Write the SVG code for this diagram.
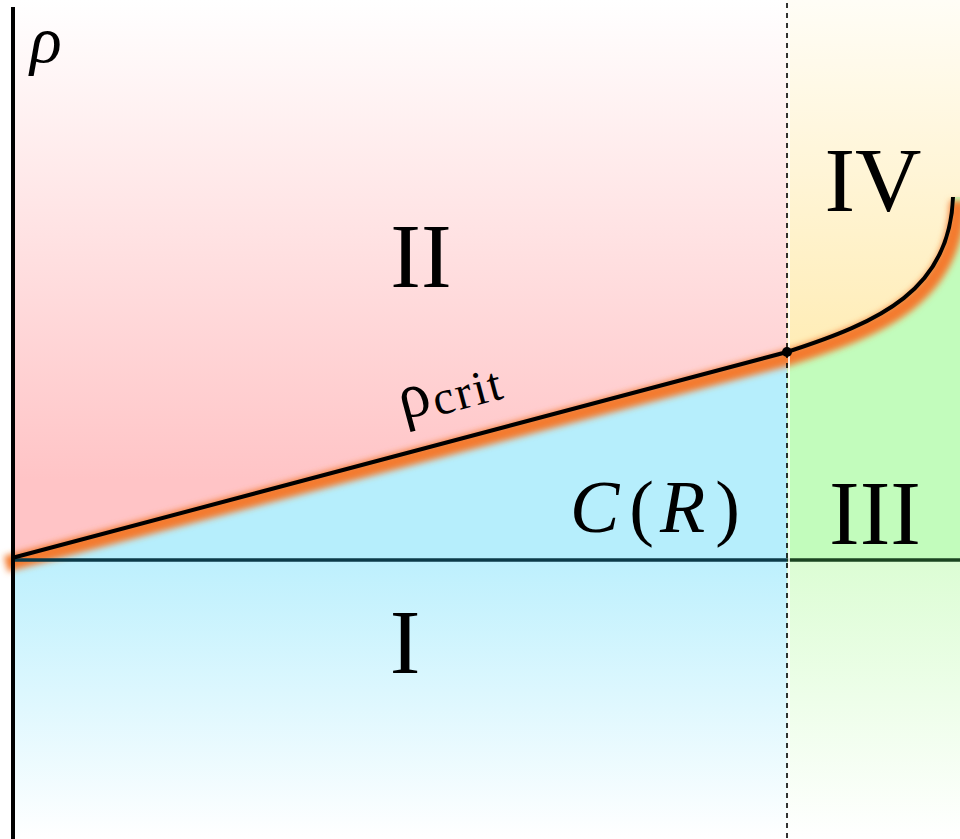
<svg xmlns="http://www.w3.org/2000/svg" width="960" height="839" viewBox="0 0 960 839">
  <defs>
    <linearGradient id="gPink" gradientUnits="userSpaceOnUse" x1="0" y1="0" x2="0" y2="480">
      <stop offset="0" stop-color="#ffffff"/>
      <stop offset="1" stop-color="#ffc4c6"/>
    </linearGradient>
    <linearGradient id="gYellow" gradientUnits="userSpaceOnUse" x1="0" y1="0" x2="0" y2="340">
      <stop offset="0" stop-color="#fffdf6"/>
      <stop offset="1" stop-color="#ffedb8"/>
    </linearGradient>
    <linearGradient id="gCyan" gradientUnits="userSpaceOnUse" x1="0" y1="560" x2="0" y2="839">
      <stop offset="0" stop-color="#bdf0fd"/>
      <stop offset="1" stop-color="#ffffff"/>
    </linearGradient>
    <linearGradient id="gGreen" gradientUnits="userSpaceOnUse" x1="0" y1="560" x2="0" y2="839">
      <stop offset="0" stop-color="#dcfdd4"/>
      <stop offset="1" stop-color="#ffffff"/>
    </linearGradient>
    <filter id="blur" x="-10%" y="-50%" width="120%" height="200%">
      <feGaussianBlur stdDeviation="3"/>
    </filter>
  </defs>
  <style>
    .lbl { font-family: "Liberation Serif", "DejaVu Serif", serif; fill: #000; }
    .num { font-size: 92px; text-anchor: middle; }
    .it { font-style: italic; }
  </style>

  <rect x="0" y="0" width="960" height="839" fill="#ffffff"/>

  <g id="region-II">
    <path d="M12,0 H787 V352 L12,558 Z" fill="url(#gPink)"/>
  </g>
  <g id="region-IV">
    <path d="M787,0 H960 V197 H953 C950,290 880,322 787,352 Z" fill="url(#gYellow)"/>
  </g>
  <g id="region-C">
    <path d="M12,558 L787,352 V560 H12 Z" fill="#b6eefc"/>
  </g>
  <g id="region-III">
    <path d="M787,352 C880,322 950,290 953,197 H960 V560 H787 Z" fill="#c2fcbc"/>
    <path d="M787,560 H960 V839 H787 Z" fill="url(#gGreen)"/>
  </g>
  <g id="region-I">
    <path d="M12,560 H787 V839 H12 Z" fill="url(#gCyan)"/>
  </g>

  <g id="connectors">
    <!-- orange glow under critical line -->
    <path d="M6,564 L787,358 C883,328 955,296 958,201" fill="none" stroke="#f47a2e" stroke-width="16" filter="url(#blur)"/>
    <!-- horizontal line -->
    <line x1="12" y1="560" x2="787" y2="560" stroke="#0b3a48" stroke-width="3.5"/>
    <line x1="787" y1="560" x2="960" y2="560" stroke="#1a4420" stroke-width="3.5"/>
    <!-- dashed vertical -->
    <line x1="789" y1="3" x2="789" y2="839" stroke="#ffffff" stroke-width="2" opacity="0.8"/>
    <line x1="787" y1="3" x2="787" y2="839" stroke="#000" stroke-width="1.6" stroke-dasharray="5 5"/>
    <!-- axis -->
    <line x1="13" y1="7" x2="13" y2="839" stroke="#000" stroke-width="4"/>
    <!-- critical line -->
    <path d="M12,558 L787,352 C880,322 950,290 953,197" fill="none" stroke="#000" stroke-width="4"/>
    <circle cx="787" cy="352" r="5" fill="#000"/>
  </g>

  <g id="labels">
    <text class="lbl it" x="30" y="62" font-size="66">ρ</text>
    <text class="lbl num" x="421" y="287">II</text>
    <text class="lbl num" x="873" y="211">IV</text>
    <text class="lbl num" x="875" y="544">III</text>
    <text class="lbl num" x="405" y="673">I</text>
    <text class="lbl" x="570" y="532" font-size="74"><tspan class="it">C</tspan><tspan dx="10">(</tspan><tspan class="it" dx="6">R</tspan><tspan dx="10">)</tspan></text>
    <text class="lbl" transform="translate(403,420) rotate(-15)" font-size="64">ρ<tspan font-size="48" dy="5" dx="2" letter-spacing="2">crit</tspan></text>
  </g>
</svg>
